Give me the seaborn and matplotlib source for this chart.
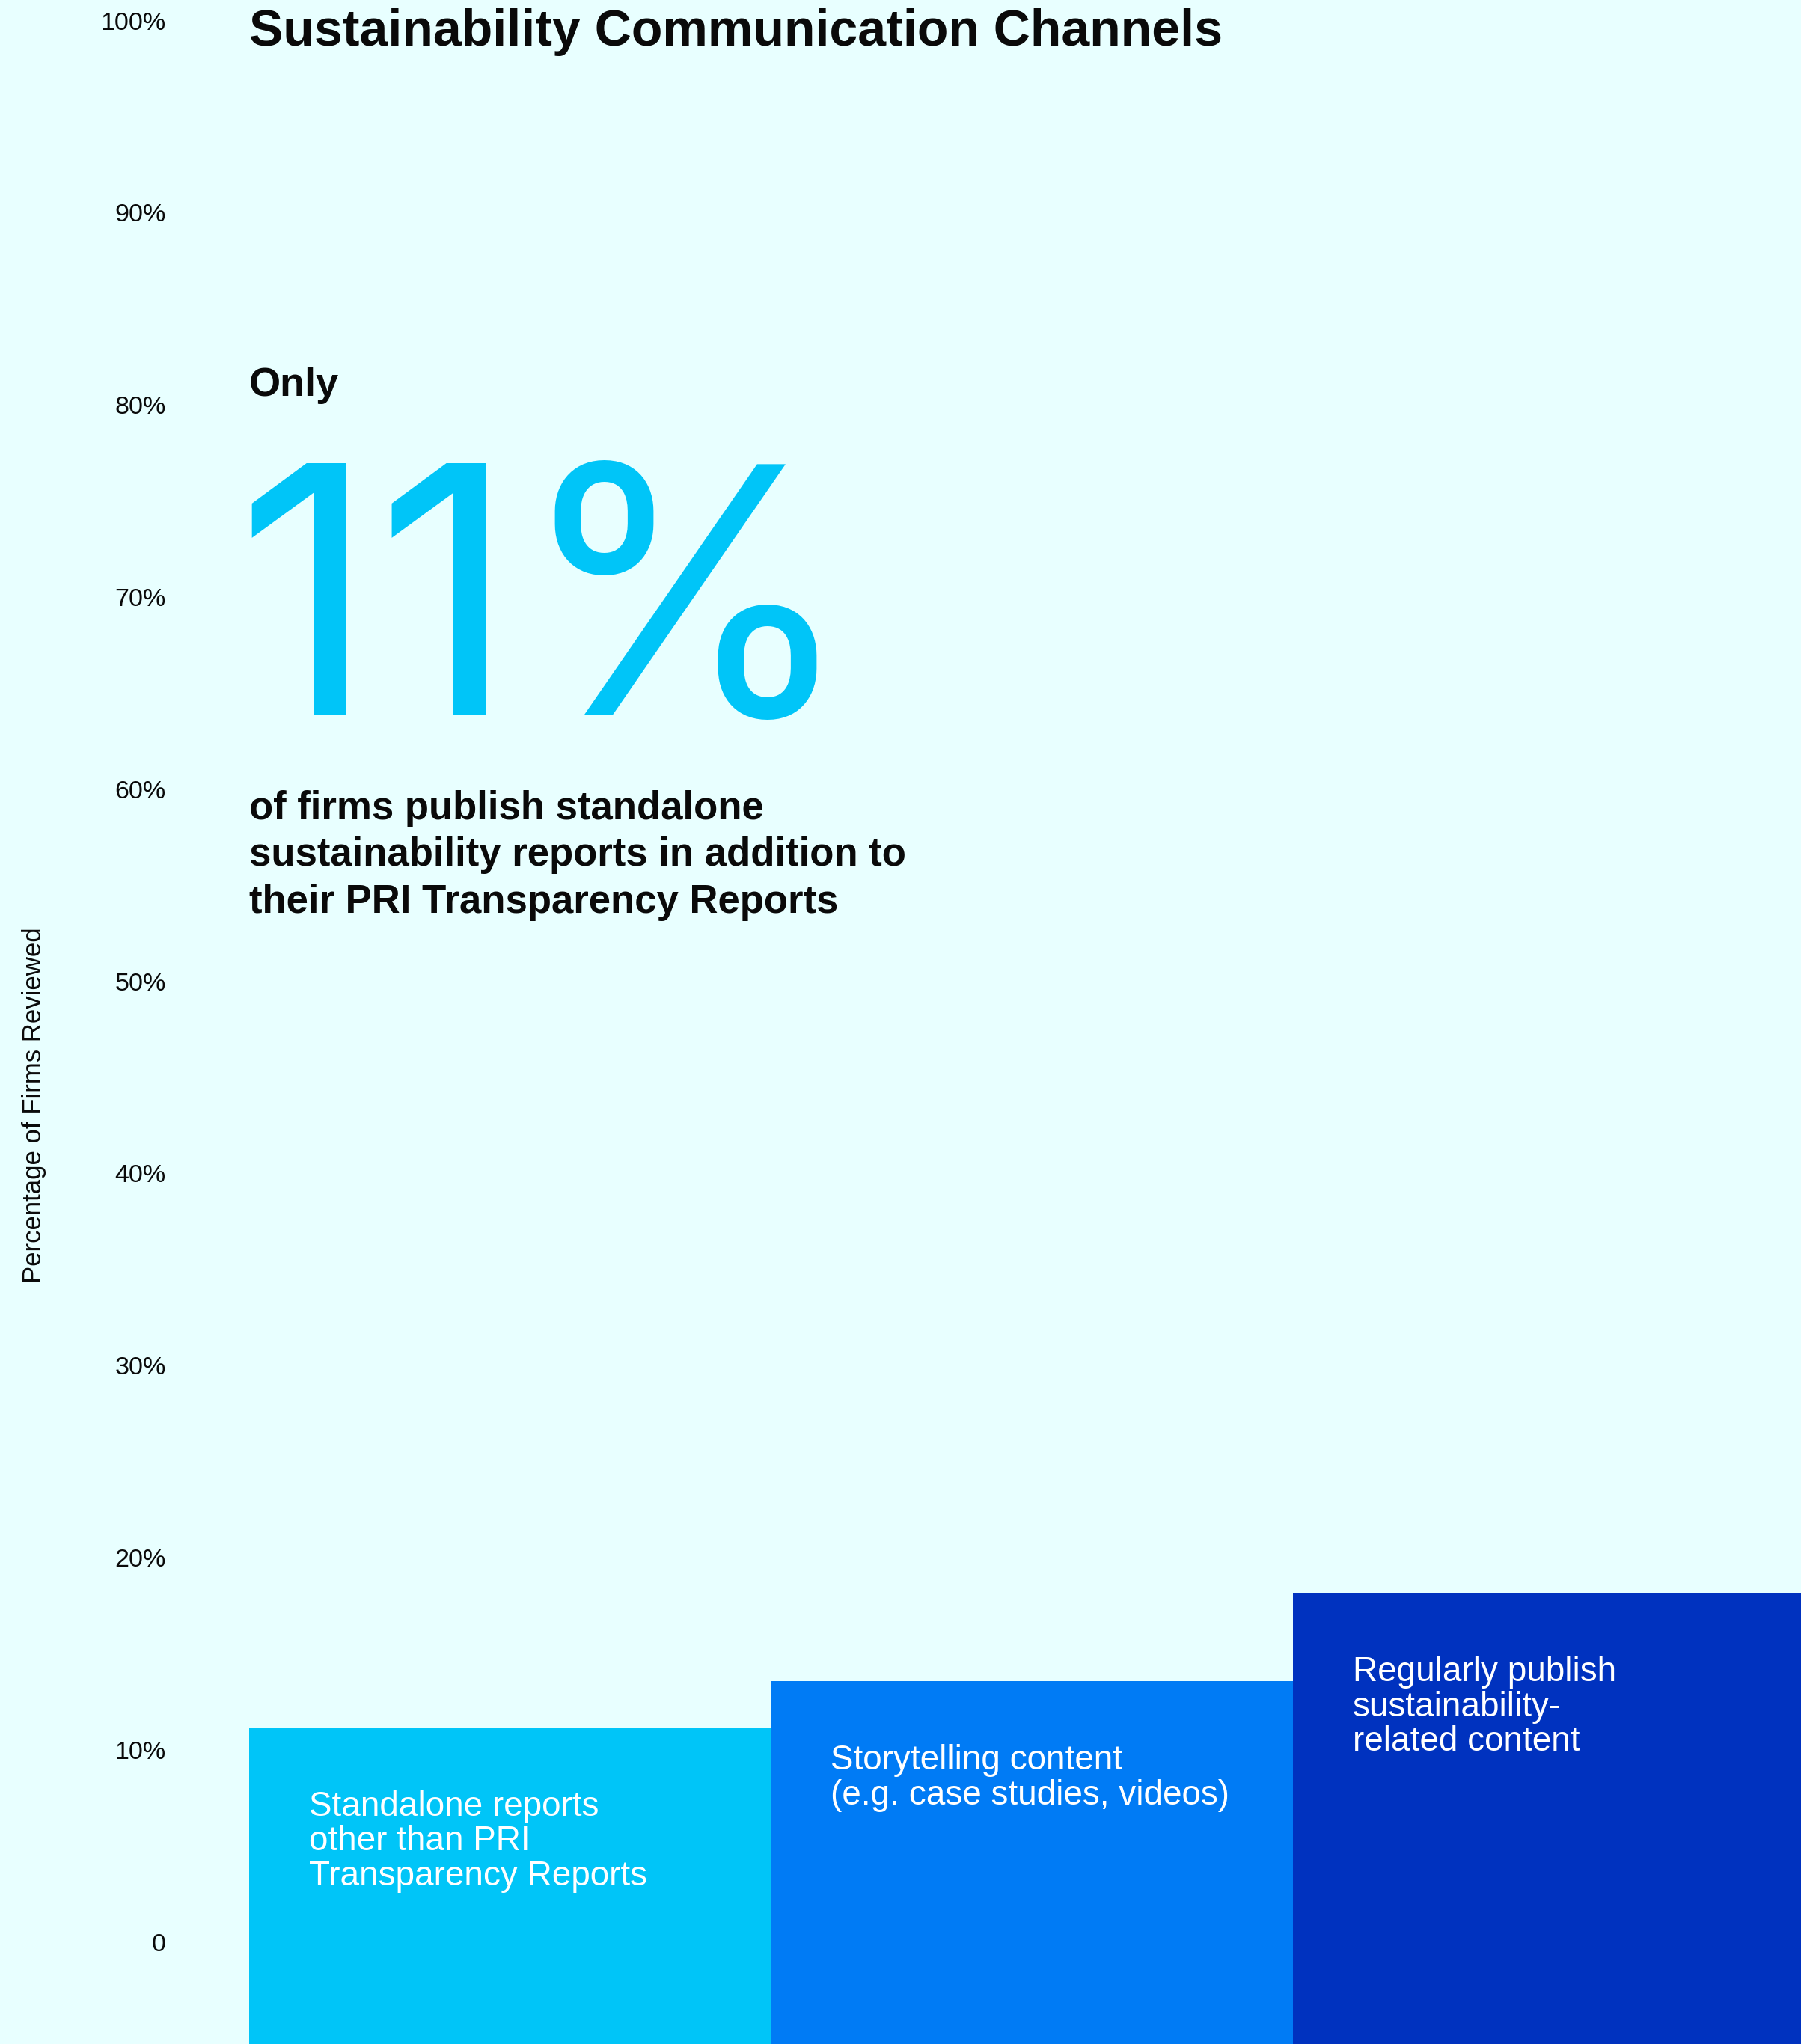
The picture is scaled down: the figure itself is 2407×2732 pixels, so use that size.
import matplotlib
matplotlib.use("Agg")
import matplotlib.pyplot as plt
import matplotlib.transforms as mtransforms
from matplotlib.font_manager import FontProperties, findfont
from matplotlib.textpath import TextPath
import seaborn as sns
import pandas as pd

# ---- data ----
categories = [
    "Standalone reports\nother than PRI\nTransparency Reports",
    "Storytelling content\n(e.g. case studies, videos)",
    "Regularly publish\nsustainability-\nrelated content",
]
values = [11, 13.4, 18]
bar_colors = ["#00C5F8", "#007BF5", "#0032BF"]
tick_values = [0, 10, 20, 30, 40, 50, 60, 70, 80, 90, 100]
tick_labels = ["0", "10%", "20%", "30%", "40%", "50%", "60%", "70%", "80%", "90%", "100%"]
title_text = "Sustainability Communication Channels"
y_title = "Percentage of Firms Reviewed"
highlight_value = 11
highlight_lead = "Only"
highlight_body = ("of firms publish standalone\n"
                  "sustainability reports in addition to\n"
                  "their PRI Transparency Reports")

# ---- style ----
BG = "#E8FFFF"
INK = "#0A0A0A"
W, H, DPI = 2407, 2732, 100

sns.set_theme(style="white")
plt.rcParams["font.family"] = ["Liberation Sans", "DejaVu Sans"]

fig = plt.figure(figsize=(W / DPI, H / DPI), dpi=DPI, facecolor=BG)
left_px = 333
ax = fig.add_axes([left_px / W, 0, 1 - left_px / W, 1])
ax.set_facecolor(BG)

df = pd.DataFrame({"channel": categories, "share": values})
sns.barplot(data=df, x="channel", y="share", hue="channel", palette=bar_colors,
            width=1, saturation=1, legend=False, ax=ax, linewidth=0)

# vertical scale: 25.68 px per percentage point, zero line 140.5 px above the bottom
px_per_unit = 25.68
y_lo = -(H - 2591.5) / px_per_unit
y_hi = 100 + 23.5 / px_per_unit
ax.set_ylim(y_lo, y_hi)
ax.set_xlim(-0.5, -0.5 + (W - left_px) / 697.4)

# let the bars run off the bottom edge while keeping their tops at the values
for p in ax.patches:
    top = p.get_y() + p.get_height()
    base = y_lo - 1
    p.set_y(base)
    p.set_height(top - base)

for s in ax.spines.values():
    s.set_visible(False)
ax.set_xticks([])
ax.set_xlabel("")
ax.set_yticks(tick_values, tick_labels)
ax.tick_params(axis="y", length=0, pad=80, labelsize=24.5, labelcolor=INK)
# nudge tick labels a few pixels down onto their gridline positions
for lab in ax.get_yticklabels():
    lab.set_transform(lab.get_transform() +
                      mtransforms.ScaledTranslation(0, -4 / DPI, fig.dpi_scale_trans))
ax.set_ylabel(y_title, fontsize=25, color=INK)
ax.yaxis.set_label_coords(-0.1307, 1 - 1477 / H)

# labels inside the bars, anchored to each bar's top-left corner
label_tf = mtransforms.offset_copy(ax.transData, fig=fig, x=80, y=-84, units="dots")
for i, (lab, v) in enumerate(zip(categories, values)):
    ax.text(i - 0.5, v, lab, transform=label_tf, ha="left", va="top",
            color="white", fontsize=33, linespacing=1.07)

# headline block
fig.text(left_px / W, 1 - 61 / H, title_text, fontsize=49, weight="bold",
         color=INK, va="baseline", ha="left")
fig.text(left_px / W, 1 - 529 / H, highlight_lead, fontsize=39, weight="bold",
         color=INK, va="baseline", ha="left")

# big figure: pick the installed face whose "11%" has the most compact proportions
big_text = f"{highlight_value}%"
target_ratio = 727 / 350          # ink width of the figure over digit height
best = None
for fam in ["Inter", "Lato", "Roboto", "Open Sans", "Noto Sans", "Liberation Sans"]:
    fp = FontProperties(family=fam)
    try:
        findfont(fp, fallback_to_default=False)
    except Exception:
        continue
    e_all = TextPath((0, 0), big_text, size=100, prop=fp).get_extents()
    e_one = TextPath((0, 0), "1", size=100, prop=fp).get_extents()
    score = abs(e_all.width / e_one.height - target_ratio)
    if best is None or score < best[0]:
        best = (score, fp, e_all, e_one)
_, big_font, e_all, e_one = best

big_size = 336 * 72 / DPI / (e_one.height / 100)     # digit height in px
pt_to_px = big_size / 100 * DPI / 72
x_px = 336 - e_all.x0 * pt_to_px
fig.text(x_px / W, 1 - 955 / H, big_text, fontproperties=big_font,
         fontsize=big_size, color=bar_colors[0], va="baseline", ha="left")

fig.text(left_px / W, 1 - 1056 / H, highlight_body, fontsize=38, weight="bold",
         color=INK, va="top", ha="left", linespacing=1.32)

fig.savefig("out.png", dpi=DPI, facecolor=BG)
